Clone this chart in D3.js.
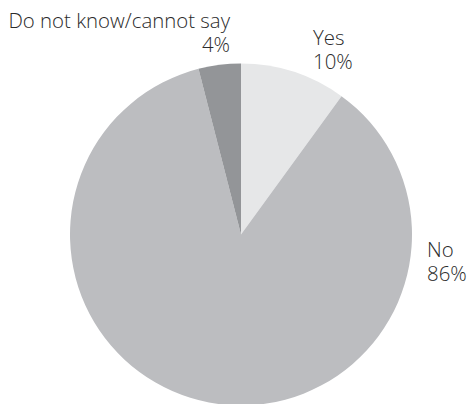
<!DOCTYPE html>
<html>
<head>
<meta charset="utf-8">
<script src="https://cdn.jsdelivr.net/npm/d3@7/dist/d3.min.js"></script>
<style>
  html, body { margin: 0; padding: 0; background: #fff; }
  svg text { font-family: "Open Sans", "DejaVu Sans", sans-serif; font-weight: 300; fill: #2b2b2b; }
</style>
</head>
<body>
<svg id="chart" width="471" height="404"></svg>
<script>
// Survey answers, clockwise from 12 o'clock
const categories = ["Yes", "No", "Do not know/cannot say"];
const values = [10, 86, 4];
const colors = ["#e6e7e8", "#bcbdc0", "#939598"];

const svg = d3.select("#chart");
const cx = 241, cy = 234.5, radius = 171;

const pie = d3.pie().sort(null).value(d => d.value);
const arc = d3.arc().innerRadius(0).outerRadius(radius);

const data = categories.map((c, i) => ({ name: c, value: values[i], color: colors[i] }));
const arcs = pie(data);

const g = svg.append("g").attr("transform", `translate(${cx},${cy})`);
g.selectAll("path")
  .data(arcs)
  .join("path")
  .attr("d", arc)
  .attr("fill", d => d.data.color);

// Outside labels: name on the first line, percentage below
const labelPos = [
  { x: 313, y: 45, anchor: "start" },
  { x: 427, y: 257, anchor: "start" },
  { x: 230, y: 28, anchor: "end" }
];
const lineGap = 23.5;

const labels = svg.selectAll("g.label")
  .data(arcs)
  .join("g")
  .attr("class", "label");

labels.each(function (d, i) {
  const p = labelPos[i];
  const t = d3.select(this).append("text")
    .attr("text-anchor", p.anchor)
    .attr("font-size", 20.4);
  t.append("tspan").attr("x", p.x).attr("y", p.y).text(d.data.name);
  t.append("tspan").attr("x", p.x).attr("y", p.y + lineGap).text(d.data.value + "%");
});
</script>
</body>
</html>
